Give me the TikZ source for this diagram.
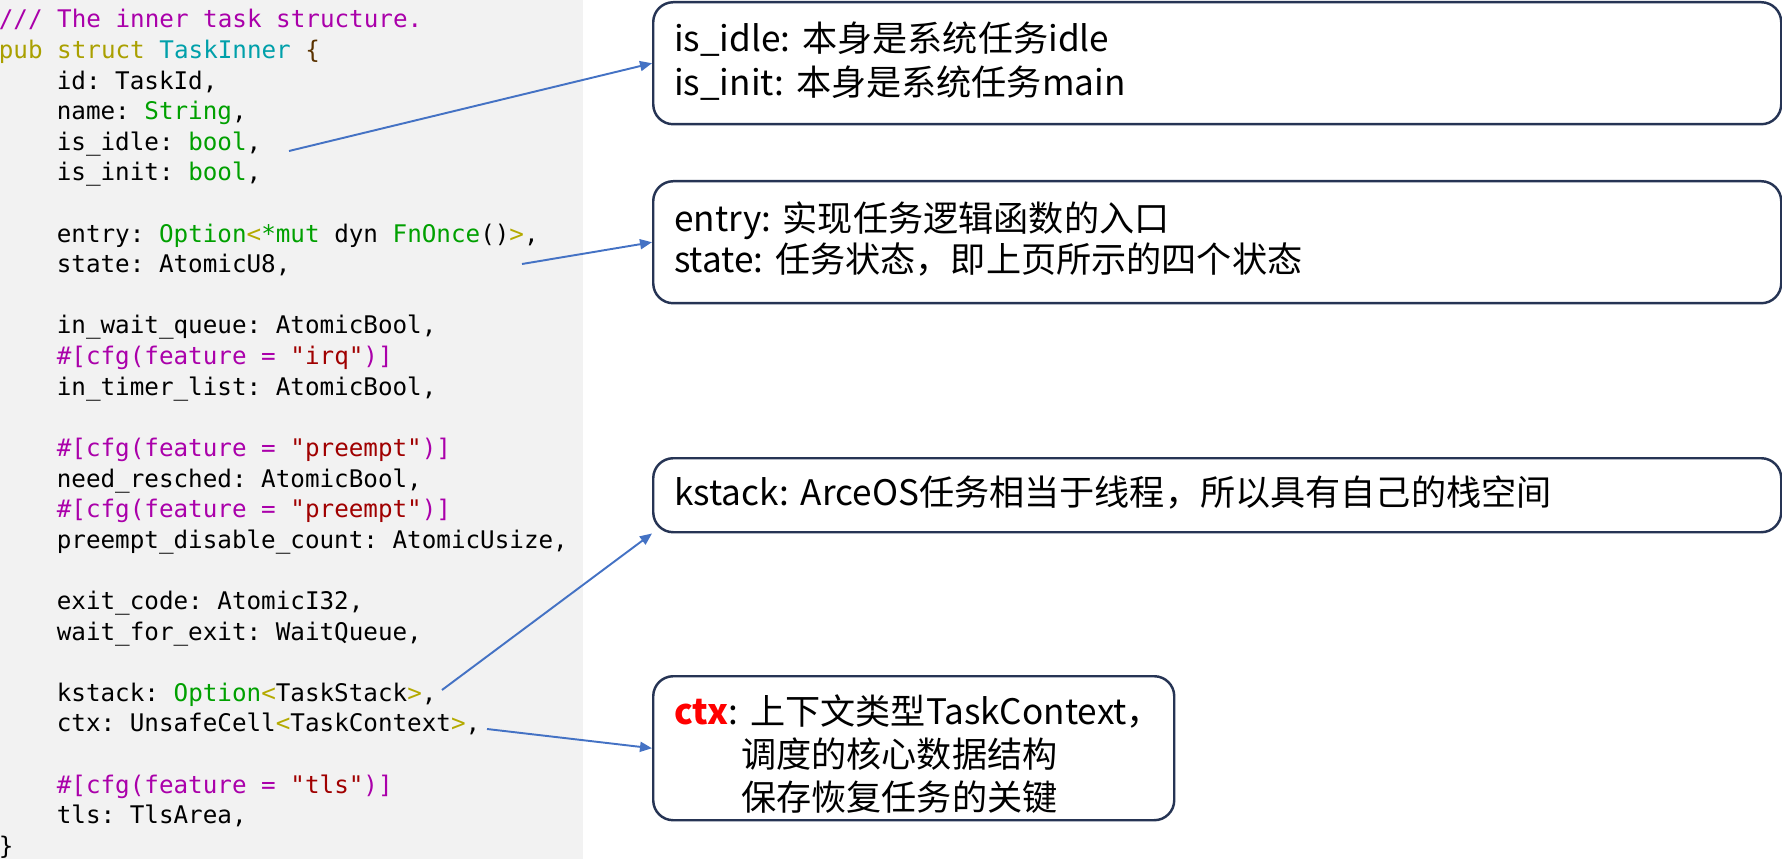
\documentclass[tikz,border=0pt]{standalone}
\usepackage{fontspec}
\newfontfamily\cjk{Noto Sans CJK SC}
\newfontfamily\codefont{DejaVu Sans Mono}
\usetikzlibrary{arrows.meta}
\frenchspacing

\definecolor{codebg}{RGB}{242,242,242}
\definecolor{cmt}{RGB}{170,0,170}
\definecolor{kw}{RGB}{170,160,0}
\definecolor{tname}{RGB}{0,160,170}
\definecolor{brace}{RGB}{90,50,0}
\definecolor{ty}{RGB}{0,160,0}
\definecolor{ang}{RGB}{180,170,0}
\definecolor{attr}{RGB}{170,0,170}
\definecolor{strc}{RGB}{160,0,0}
\definecolor{link}{RGB}{68,114,196}
\definecolor{boxline}{RGB}{38,52,84}

% extra depth / height to nudge the text inside a note
\newcommand{\lift}{\rule[-0.2cm]{0pt}{0pt}}
\newcommand{\sink}{\rule{0pt}{0.84cm}}

\begin{document}
\begin{tikzpicture}[
    code/.style={anchor=base west, inner sep=0, font=\codefont\fontsize{13.8}{16}\selectfont},
    note/.style={draw=boxline, line width=1.4pt, rounded corners=0.4cm, anchor=north west,
      align=left, inner xsep=0.42cm, inner ysep=0, font=\cjk\fontsize{20}{25}\selectfont},
    link/.style={draw=link, line width=1.1pt, -{Triangle[length=0.24cm,width=0.2cm]}}
  ]
\useasboundingbox (0,0) rectangle (35.64,-17.18);
\fill[codebg] (0,0) rectangle (11.66,-17.18);

% the struct
\node[code] (doc) at (-0.03,-0.56) {\textcolor{cmt}{/// The inner task structure.}};
\node[code] (head) at (-0.03,-1.172) {\textcolor{kw}{pub struct} \textcolor{tname}{TaskInner} \textcolor{brace}{\{}};
\node[code] (fid) at (1.13,-1.784) {id: TaskId,};
\node[code] (fname) at (1.13,-2.396) {name: \textcolor{ty}{String},};
\node[code] (fidle) at (1.13,-3.008) {is\_idle: \textcolor{ty}{bool},};
\node[code] (finit) at (1.13,-3.62) {is\_init: \textcolor{ty}{bool},};
\node[code] (fentry) at (1.13,-4.844) {entry: \textcolor{ty}{Option}\textcolor{ang}{<}\textcolor{ty}{*mut} dyn \textcolor{ty}{FnOnce}()\textcolor{ang}{>},};
\node[code] (fstate) at (1.13,-5.456) {state: AtomicU8,};
\node[code] (fwait) at (1.13,-6.68) {in\_wait\_queue: AtomicBool,};
\node[code] (cfgirq) at (1.13,-7.292) {\textcolor{attr}{\#[cfg(feature = }\textcolor{strc}{"irq"}\textcolor{attr}{)]}};
\node[code] (ftimer) at (1.13,-7.904) {in\_timer\_list: AtomicBool,};
\node[code] (cfgpre) at (1.13,-9.128) {\textcolor{attr}{\#[cfg(feature = }\textcolor{strc}{"preempt"}\textcolor{attr}{)]}};
\node[code] (fresched) at (1.13,-9.74) {need\_resched: AtomicBool,};
\node[code] (cfgpre2) at (1.13,-10.352) {\textcolor{attr}{\#[cfg(feature = }\textcolor{strc}{"preempt"}\textcolor{attr}{)]}};
\node[code] (fcount) at (1.13,-10.964) {preempt\_disable\_count: AtomicUsize,};
\node[code] (fexit) at (1.13,-12.188) {exit\_code: AtomicI32,};
\node[code] (fwexit) at (1.13,-12.8) {wait\_for\_exit: WaitQueue,};
\node[code] (fstack) at (1.13,-14.024) {kstack: \textcolor{ty}{Option}\textcolor{ang}{<}TaskStack\textcolor{ang}{>},};
\node[code] (fctx) at (1.13,-14.636) {ctx: UnsafeCell\textcolor{ang}{<}TaskContext\textcolor{ang}{>},};
\node[code] (cfgtls) at (1.13,-15.86) {\textcolor{attr}{\#[cfg(feature = }\textcolor{strc}{"tls"}\textcolor{attr}{)]}};
\node[code] (ftls) at (1.13,-16.472) {tls: TlsArea,};
\node[code] (tail) at (-0.03,-17.084) {\}};

% the notes
\node[note, text width=21.72cm, minimum height=2.44cm] (idlebox) at (13.04,-0.02)
  {is\_idle: 本身是系统任务idle\\ is\_init: 本身是系统任务main\lift};
\node[note, text width=21.72cm, minimum height=2.44cm, font=\cjk\fontsize{20}{23.5}\selectfont] (entrybox) at (13.04,-3.6)
  {entry: 实现任务逻辑函数的入口\\ state: 任务状态，即上页所示的四个状态\lift};
\node[note, text width=21.72cm, minimum height=1.48cm] (stackbox) at (13.04,-9.14)
  {kstack: ArceOS任务相当于线程，所以具有自己的栈空间\lift};
\node[note, text width=9.58cm, minimum height=2.88cm, font=\cjk\fontsize{20}{24.5}\selectfont] (ctxbox) at (13.04,-13.5)
  {\sink\mbox{\textcolor{red}{\bfseries ctx}: 上下文类型TaskContext，}\\
   \hspace*{1.34cm}调度的核心数据结构\\
   \hspace*{1.34cm}保存恢复任务的关键};

% arrows
\coordinate (idlept) at (5.78,-3.02);
\coordinate (statept) at (10.44,-5.28);
\coordinate (stackpt) at (8.84,-13.8);
\coordinate (ctxpt) at (9.74,-14.58);
\draw[link] (idlept) -- (idlebox.west);
\draw[link] (statept) -- (entrybox.west);
\draw[link] (stackpt) -- (stackbox.south west);
\draw[link] (ctxpt) -- (ctxbox.west);

\end{tikzpicture}
\end{document}
